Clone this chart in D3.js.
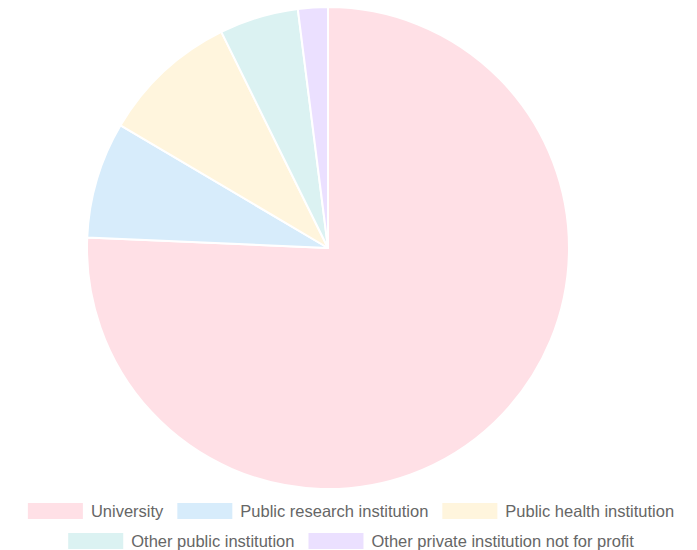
<!DOCTYPE html>
<html>
<head>
<meta charset="utf-8">
<script src="https://cdn.jsdelivr.net/npm/d3@7/dist/d3.min.js"></script>
<style>
  html, body { margin: 0; padding: 0; background: #fff; }
  svg { display: block; }
  text { font-family: "Liberation Sans", Arial, Helvetica, sans-serif; }
</style>
</head>
<body>
<svg id="chart" width="697" height="550"></svg>
<script>
// Share of participants by institution type (%)
const categories = [
  "University",
  "Public research institution",
  "Public health institution",
  "Other public institution",
  "Other private institution not for profit"
];
const values = [75.7, 7.8, 9.2, 5.3, 2.0];
const colors = [
  "rgba(255, 99, 132, 0.2)",
  "rgba(54, 162, 235, 0.2)",
  "rgba(255, 206, 86, 0.2)",
  "rgba(75, 192, 192, 0.2)",
  "rgba(153, 102, 255, 0.2)"
];
// Legend rows (indices into categories)
const legendRows = [[0, 1, 2], [3, 4]];

const svg = d3.select("#chart");
const cx = 328, cy = 248, radius = 241;

const data = categories.map((c, i) => ({ label: c, value: values[i], color: colors[i] }));

const pie = d3.pie().value(d => d.value).sort(null);
const arc = d3.arc().innerRadius(0).outerRadius(radius);

svg.append("g")
  .attr("transform", `translate(${cx},${cy})`)
  .selectAll("path")
  .data(pie(data))
  .join("path")
  .attr("d", arc)
  .attr("fill", d => d.data.color)
  .attr("stroke", "#fff")
  .attr("stroke-width", 2)
  .attr("stroke-linejoin", "round");

// Legend: centred rows of colour box + label
const boxW = 55, boxH = 16, boxGap = 8, itemGap = 14;
const legendCenter = 351;
const rowY = [511, 541];
const legend = svg.append("g");

legendRows.forEach((row, r) => {
  const g = legend.append("g");
  let x = 0;
  row.forEach(i => {
    g.append("rect")
      .attr("x", x).attr("y", rowY[r] - boxH / 2)
      .attr("width", boxW).attr("height", boxH)
      .attr("fill", colors[i]);
    const t = g.append("text")
      .attr("x", x + boxW + boxGap)
      .attr("y", rowY[r])
      .attr("dy", "0.35em")
      .attr("font-size", 16.5)
      .attr("fill", "#666")
      .text(categories[i]);
    x += boxW + boxGap + t.node().getComputedTextLength() + itemGap;
  });
  const total = x - itemGap;
  g.attr("transform", `translate(${legendCenter - total / 2},0)`);
});
</script>
</body>
</html>
